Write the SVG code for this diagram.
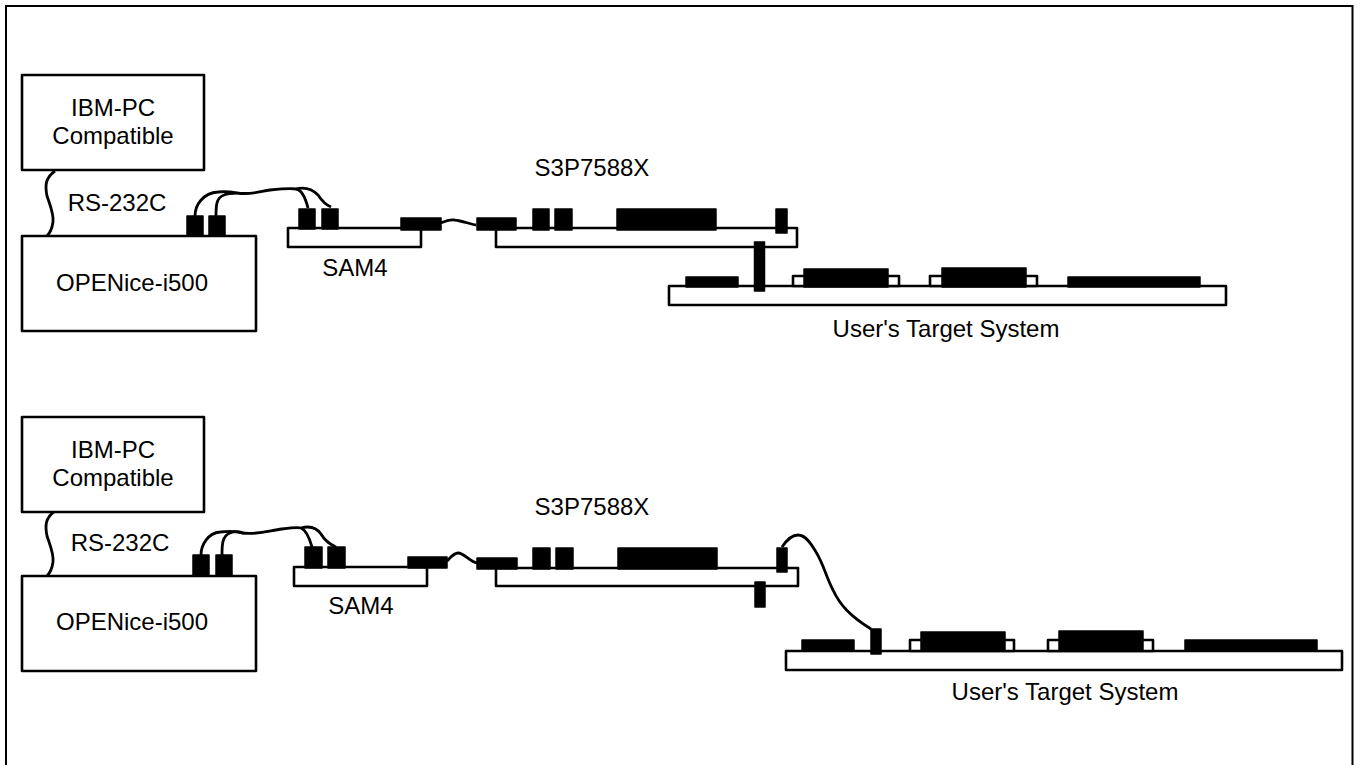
<svg xmlns="http://www.w3.org/2000/svg" width="1360" height="765" viewBox="0 0 1360 765">
<style>
text{font-family:"Liberation Sans",Arial,sans-serif;font-size:24px;fill:#000;text-anchor:middle}
.b{fill:#fff;stroke:#000;stroke-width:2.6;stroke-linejoin:round}
.k{fill:#000;stroke:#000;stroke-width:1.500;stroke-linejoin:round}
.w{fill:none;stroke:#000;stroke-width:2.8}
</style>
<rect width="1360" height="765" fill="#fff"/>
<path id="frame" d="M6 765V6H1352.500V765" fill="none" stroke="#000" stroke-width="2"/>
<g id="connectors">
<path class="w" d="M55 171C45 178 45 186 47 196C50 205 54 214 53 222C52 229 50 233 47 236"/>
<path class="w" d="M195 216C195 205 203 193 218 192C226 191 232 192 237 193C250 195 258 192 270 190C280 189 290 188 296 189C302 190 306 200 308 208"/>
<path class="w" d="M216 216C216 206 216 198 224 195C228 193 232 193 237 193M296 189C304 187 312 189 318 195C322 201 326 205 331 207"/>
<path class="w" d="M441 223C446 221 449 219 455 220C462 221 470 224 476 225"/>
<path class="w" d="M55 511C45 518 45 526 47 536C50 545 54 554 53 562C52 569 50 573 47 576"/>
<path class="w" d="M201 555C201 545 208 533 220 532C229 531 236 531 242 533C256 535 268 531 282 529C290 528 298 527 301 528C306 530 310 540 312 547"/>
<path class="w" d="M222 555C222 545 222 536 230 533C235 531 238 531 243 533M301 528C308 526 316 527 321 534C325 541 329 544 336 547"/>
<path class="w" d="M447 561C451 557 454 553 458 553C464 553 470 562 477 563"/>
<path class="w" d="M782 547C786 541 792 535 798 535C806 535 812 545 816 552C824 565 826 577 833 590C840 605 850 616 871 629"/>
</g>
<g id="ibm-pc-1"><rect class="b" x="22" y="75" width="182" height="95"/><text x="113" y="116">IBM-PC</text><text x="113" y="144">Compatible</text></g>
<text id="rs232-1" x="117" y="211">RS-232C</text>
<g id="openice-1"><rect class="b" x="22" y="236" width="234" height="95"/><text x="132" y="291">OPENice-i500</text>
<rect class="k" x="187" y="216" width="16" height="20"/><rect class="k" x="209" y="216" width="16" height="20"/></g>
<g id="sam4-1"><rect class="b" x="288" y="228" width="133" height="19"/>
<rect class="k" x="299" y="209" width="16" height="20"/><rect class="k" x="322" y="209" width="16" height="20"/><rect class="k" x="401" y="218" width="40" height="12"/>
<text x="355" y="276">SAM4</text></g>
<g id="s3p-1"><rect class="b" x="496" y="228" width="301" height="19"/>
<rect class="k" x="477" y="218" width="39" height="12"/><rect class="k" x="533" y="209" width="16" height="21"/><rect class="k" x="555" y="209" width="17" height="21"/><rect class="k" x="617" y="209" width="99" height="21"/><rect class="k" x="776" y="209" width="11" height="24"/>
<text x="592" y="176">S3P7588X</text></g>
<g id="target-1"><rect class="b" x="669" y="286" width="557" height="19"/>
<rect class="k" x="686" y="277" width="52" height="10"/>
<rect class="b" x="793" y="276" width="106" height="10"/><rect class="k" x="804" y="269" width="84" height="18"/>
<rect class="b" x="930" y="276" width="107" height="10"/><rect class="k" x="942" y="268" width="84" height="19"/>
<rect class="k" x="1068" y="277" width="132" height="10"/>
<text x="946" y="337">User's Target System</text></g>
<rect id="post-1" class="k" x="754.500" y="242" width="10" height="49"/>
<g id="ibm-pc-2"><rect class="b" x="22" y="417" width="182" height="95"/><text x="113" y="458">IBM-PC</text><text x="113" y="486">Compatible</text></g>
<text id="rs232-2" x="120" y="551">RS-232C</text>
<g id="openice-2"><rect class="b" x="22" y="576" width="234" height="95"/><text x="132" y="630">OPENice-i500</text>
<rect class="k" x="193" y="555" width="16" height="21"/><rect class="k" x="216" y="555" width="16" height="21"/></g>
<g id="sam4-2"><rect class="b" x="294" y="567" width="133" height="19"/>
<rect class="k" x="305" y="547" width="17" height="21"/><rect class="k" x="328" y="547" width="17" height="21"/><rect class="k" x="408" y="557" width="39" height="11"/>
<text x="361" y="614">SAM4</text></g>
<g id="s3p-2"><rect class="b" x="496" y="568" width="302" height="18"/>
<rect class="k" x="477" y="558" width="40" height="11"/><rect class="k" x="533" y="548" width="17" height="21"/><rect class="k" x="556" y="548" width="17" height="21"/><rect class="k" x="618" y="548" width="99" height="21"/><rect class="k" x="777" y="548" width="10" height="24"/>
<rect class="k" x="755" y="582" width="10" height="25"/>
<text x="592" y="515">S3P7588X</text></g>
<g id="target-2"><rect class="b" x="786" y="651" width="556" height="19"/>
<rect class="k" x="802" y="640" width="52" height="11"/>
<rect class="b" x="910" y="640" width="104" height="11"/><rect class="k" x="921" y="632" width="84" height="19"/>
<rect class="b" x="1048" y="640" width="105" height="11"/><rect class="k" x="1059" y="631" width="84" height="20"/>
<rect class="k" x="1185" y="640" width="132" height="10"/>
<rect class="k" x="871" y="629" width="10" height="25"/>
<text x="1065" y="700">User's Target System</text></g>
</svg>
